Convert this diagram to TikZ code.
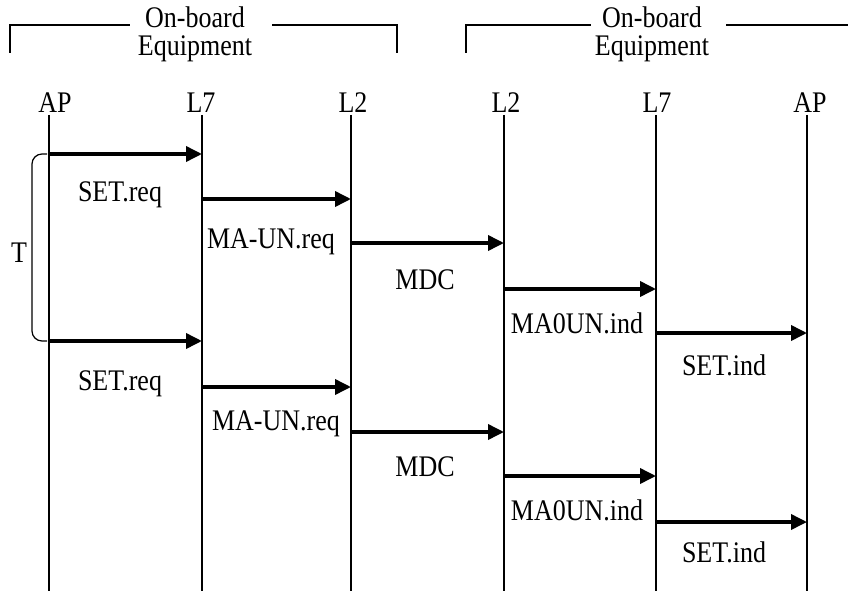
\documentclass[tikz,border=0pt]{standalone}
\usepackage{fontspec}
\setmainfont{Liberation Serif}
\usetikzlibrary{arrows.meta}
\newcommand{\tall}[1]{\scalebox{1}[1.15]{#1}}
\tikzset{
    lifeline/.style={line width=1.8pt},
    msg/.style={line width=3.6pt, -{Triangle[length=16pt,width=15pt]}},
    msglabel/.style={anchor=base, inner sep=0pt},
    headlabel/.style={anchor=base, inner sep=0pt},
    grouplabel/.style={anchor=north, inner sep=0pt, align=center,
        font=\fontsize{26}{28}\selectfont},
}

\begin{document}
\begin{tikzpicture}[x=1pt, y=-1pt, font=\fontsize{26}{28}\selectfont]
\useasboundingbox (0,0) rectangle (848,591);

% equipment groups
\draw[line width=1.2pt] (10,53) -- (10,25) -- (130,25);
\draw[line width=1.2pt] (272,25) -- (397,25) -- (397,53);
\node[grouplabel] (grpA) at (195,6.6) {\tall{On-board}\\\tall{Equipment}};
\draw[line width=1.2pt] (466,53) -- (466,25) -- (591,25);
\draw[line width=1.2pt] (726,25) -- (848,25);
\node[grouplabel] (grpB) at (652,6.6) {\tall{On-board}\\\tall{Equipment}};

% lifelines
\foreach \name/\x/\lx/\txt in {apA/49/55/AP, lsA/202/201/L7, ltA/351/353/L2,
                               ltB/504/506/L2, lsB/656/657/L7, apB/807/810/AP}{
    \node[headlabel] (\name-head) at (\lx,113) {\tall{\txt}};
    \coordinate (\name) at (\x,115);
    \coordinate (\name-end) at (\x,591);
    \draw[lifeline] (\name) -- (\name-end);
}

% messages
\foreach \y/\a/\b/\lx/\ly/\txt in {154/apA/lsA/120/201/SET.req,
                                   199/lsA/ltA/271/248/MA-UN.req,
                                   243/ltA/ltB/425/289/MDC,
                                   289/ltB/lsB/577/333/MA0UN.ind,
                                   333/lsB/apB/724/375/SET.ind,
                                   341/apA/lsA/120/390/SET.req,
                                   387/lsA/ltA/276/430/MA-UN.req,
                                   432/ltA/ltB/425/476/MDC,
                                   476/ltB/lsB/577/520/MA0UN.ind,
                                   522/lsB/apB/724/562/SET.ind}{
    \draw[msg] (\a |- 0,\y) -- (\b |- 0,\y);
    \node[msglabel] at (\lx,\ly) {\tall{\txt}};
}

% period between the two requests
\draw[line width=1.2pt, rounded corners=10pt] (47,154) -- (32,154) -- (32,341) -- (47,341);
\node[msglabel] (period) at (19,262) {\tall{T}};
\end{tikzpicture}
\end{document}
